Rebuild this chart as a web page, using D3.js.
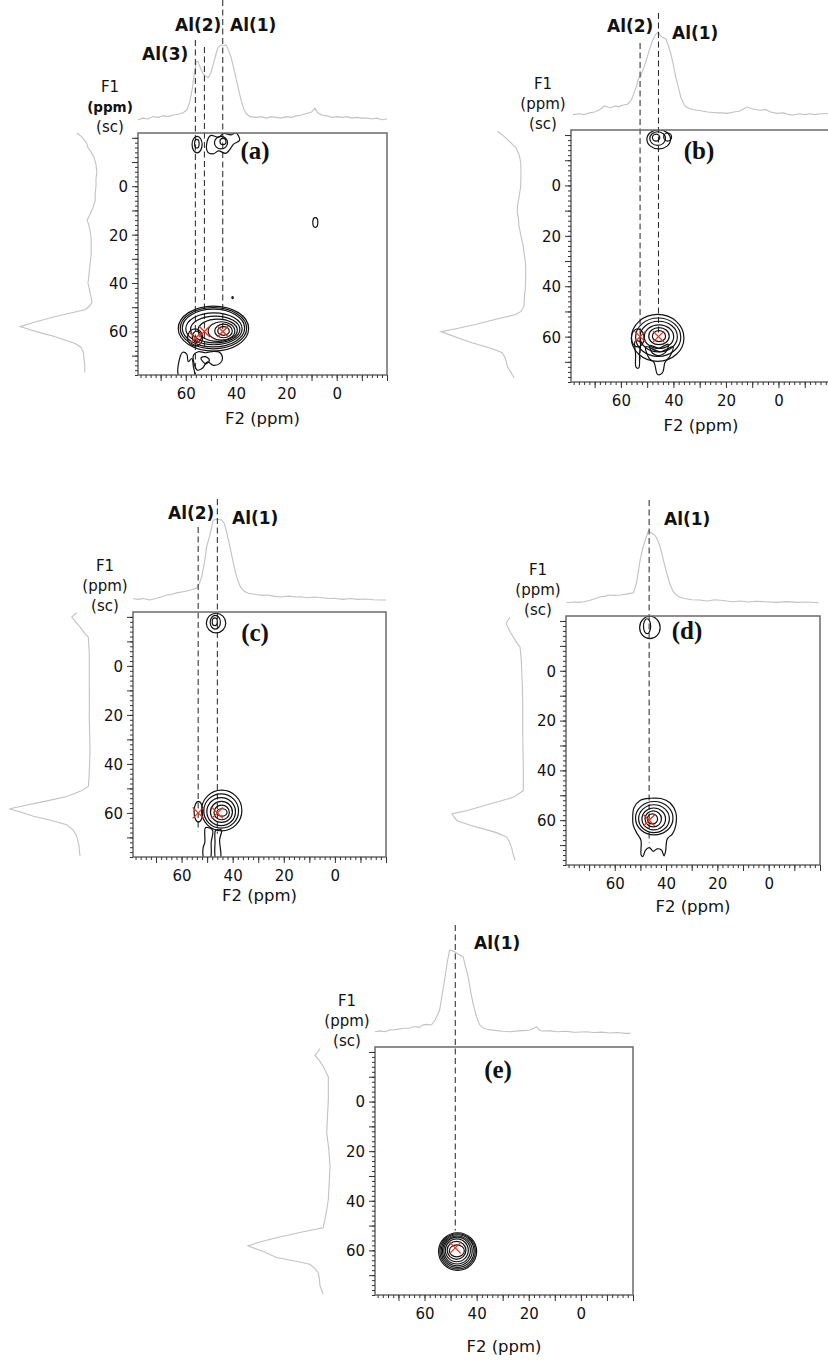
<!DOCTYPE html>
<html>
<head>
<meta charset="utf-8">
<script src="https://d3js.org/d3.v7.min.js"></script>
<style>
  body { margin: 0; background: #fff; }
  text { font-family: "DejaVu Sans", sans-serif; fill: #111; }
  .tick line { stroke: #333; }
</style>
</head>
<body>
<div id="main"></div>
<script>
const ctx = { w: 828, h: 1360 };

// shared axis ranges (ppm) and labelled ticks
const f2Domain = [79, -20];
const f1Domain = [-22, 78];
const labelTicks = [60, 40, 20, 0];

// peaks: site label, F2 / F1 position of the red cross, F1 where the dashed guide stops
const peaksA = [
  { label: "Al(1)", f2: 45.3, f1: 60, end: 60 },
  { label: "Al(2)", f2: 52.6, f1: 60, end: 66 },
  { label: "Al(3)", f2: 56.2, f1: 62.8, end: 78 }
];
const peaksB = [
  { label: "Al(2)", f2: 52.7, f1: 60, end: 69 },
  { label: "Al(1)", f2: 45.7, f1: 60, end: 59 }
];
const peaksC = [
  { label: "Al(2)", f2: 53.5, f1: 60, end: 67.5 },
  { label: "Al(1)", f2: 46, f1: 60, end: 68.5 }
];
const peaksD = [{ label: "Al(1)", f2: 46.6, f1: 60, end: 69 }];
const peaksE = [{ label: "Al(1)", f2: 48.2, f1: 59, end: 52 }];

// F2 projections (ppm, relative intensity)
const topA = [[79,3],[77,5],[75,4],[73,7],[71,6],[69,8],[67,7],[65,9],[63,10],[61,12],[59.5,16],[58.5,25],[57.5,42],[56.5,65],[55.8,78],[55.2,79],[54.3,71],[53,62],[52,59],[51,58],[50,64],[49,76],[48,88],[47.2,97],[46,100],[45,99],[44,100],[43.2,95],[42,84],[41,71],[40,56],[39,42],[38,28],[37,17],[36,11],[34.5,7],[32,6],[30,7],[28,5],[26,7],[24,6],[22,5],[20,7],[18,6],[16,8],[14,9],[12,11],[10,13],[8.7,18],[7.5,12],[6,9],[4,8],[2,6],[0,7],[-2,6],[-4,7],[-6,5],[-8,6],[-10,5],[-12,5],[-14,4],[-16,5],[-18,3],[-20,4]];
const topB = [[78.3,5],[76,6],[74,5],[72,7],[70,8],[68,11],[66.3,15],[64,13],[62,15],[61,14],[59,16],[57.5,17],[56,22],[55,30],[54,38],[53.3,47],[52.4,50],[51.5,57],[50.5,66],[49.5,76],[48,90],[46.8,97],[45.8,100],[44.8,95],[44.2,94],[42.9,92],[42,85],[41,75],[40,62],[39.1,48],[38,35],[37.2,25],[36,17],[35.3,14],[33,11],[31,10],[29.6,9.5],[27,8],[25,7.5],[23,7],[21,7],[19.5,6.5],[17,8],[15,9],[13,12],[11.9,14],[10.5,12],[9,11],[6.8,10],[5,11],[3,8],[0.5,6.5],[-2,7],[-4,5],[-5.8,4.6],[-8,6],[-10,5],[-12,6],[-14,5],[-16,6],[-18,6],[-19.5,6.5]];
const topC = [[79,3],[77,2],[75,3],[72.5,1.2],[70,3],[68,5],[65.9,7.4],[64,8],[62,10],[59.4,11.5],[57,13],[55,15],[54.1,15.7],[53,22],[52.1,30],[51,48],[50.2,67],[49,80],[47.6,100],[46,101],[44.3,100],[43.2,95],[42.3,84],[41,66],[39.7,46.5],[38.5,30],[37,17.7],[35.5,12],[33.8,9.5],[31,8],[28,7],[26.5,7.4],[24,6],[21,5],[18,6],[15,5],[13.4,5.3],[11,4],[8,5],[5,4],[2,3],[0.3,3.3],[-3,2],[-6,3],[-9,2],[-12,2.5],[-15,1.5],[-18,1.2],[-20,1.2]];
const topD = [[78.8,3.1],[76,4],[74,3.5],[72,4.4],[70,6],[68,8],[65.5,11.2],[63.5,12],[62.3,13.5],[60,13],[57.8,13.5],[55,15],[52.7,16.6],[51.5,30],[50.1,60.6],[49,78],[48.1,87.5],[46.9,100],[45.5,97],[44.3,94.2],[43.3,88],[42.3,78.5],[41,60],[39.7,42.7],[38.5,28],[37.2,17.9],[35.5,12],[33.3,9],[30,7],[26.9,6.7],[24,5.5],[21,7],[18,6],[14,4.4],[11,5.5],[8,4],[5,5],[1.1,4.4],[-3,3.5],[-7,4.5],[-11,3.5],[-15,4],[-19.5,3.1]];
const topE = [[79,5],[77,6],[75,5],[73,7.5],[72.2,7],[70,8],[68,9],[65.8,9],[64,11],[62,10],[60.7,12.8],[59,13.5],[57.4,12.8],[56,18],[54.2,30.2],[53.3,47],[52.3,65.1],[51.3,85],[50.4,100],[49.3,99],[48.4,98],[47,95],[45.2,92.2],[44.2,80],[43.3,69],[42.3,52],[41.4,38],[40,22],[38.8,12.8],[37.5,9.5],[36.2,7.8],[33,6.5],[30,5.5],[27.2,5],[24,6],[21,6.5],[19.5,7],[18,9],[17,10.8],[16,7],[15,5.8],[12,6],[9,5],[6,5.5],[3,4.5],[1.5,4.3],[-2,5],[-5,4],[-8,4.5],[-11,3.5],[-14,4],[-17,3],[-19,3.1]];

// F1 projections (ppm, relative intensity)
const sideA = [[-22,29],[-20.5,23],[-18,17],[-16,15],[-14,11],[-12,7.5],[-9,5],[-6,4],[-3,5],[0,5],[3,6],[6,6],[9,9],[12,13],[14,16],[16,14],[19,12],[22,11],[25,11],[28,11],[31,12],[34,13],[37,14],[40,15],[43,13],[46,11],[48,10],[49.5,13],[51,19],[52.5,38],[54,58],[56,80],[58,100],[59.5,85],[60.5,75],[62,58],[63.5,44],[65,31],[66.5,24],[68.5,21],[71,20],[74,19],[77,19]];
const sideB = [[-21.5,34.5],[-19.6,27],[-17,19],[-15,13],[-12,9],[-9,7.3],[-5,7],[0.3,7.3],[4,9],[8,11],[10.8,11.3],[13,10],[16.2,9.3],[20,7],[24,4.5],[26.7,3.5],[30,2],[34,1.5],[37.3,1.5],[41,2],[44,3],[47.9,3.5],[50,7],[51.2,13],[53,35],[55.2,60],[56.7,80],[58,100],[59.5,88],[61,76],[62.4,64],[64,48],[65.5,35],[66.4,29],[68,26],[70,24],[71.7,23],[73.5,20],[76.3,15]];
const sideC = [[-21.7,17.7],[-19.9,23.8],[-18,19],[-15.9,13.6],[-13,7],[-11.8,3.3],[-5,2.1],[0,2.1],[8.5,2.1],[15,2],[22.1,2.1],[30,1.5],[35.6,1.2],[42,2],[46,2.5],[49.2,3.3],[51,12],[53.3,30],[55.5,60],[57,82],[58,96],[58.4,100],[59.5,88],[61.4,71],[63,50],[64.8,30],[67,22],[69.5,17.7],[73,15],[77.6,13.6]];
const sideD = [[-21.5,21.5],[-20,25],[-18.9,26.9],[-16,22],[-13.5,17.1],[-11,12],[-9.6,8.1],[-5,6.5],[-0.3,5.8],[6,5],[13,4.4],[20,4.4],[26.3,4.4],[33,4],[39.6,3.6],[44,3.6],[48.2,3.6],[50.8,17.1],[52.5,37],[54.2,57.5],[56,78],[57.5,100],[58.8,97],[60.2,93.3],[62,75],[63.5,57.5],[65,40],[66.8,26],[69,22],[71.4,19.2],[74,17],[76.1,14.8]];
const sideE = [[-21.4,15.3],[-19.5,19],[-18.7,21.3],[-16.5,16],[-14.1,11.5],[-10,5.5],[-5,5.5],[-0.6,5.5],[6,6.5],[12.7,7.4],[19,5],[26.1,3.5],[33,4.5],[39.5,5.5],[45,8],[50.9,11.5],[52.5,35],[54.9,66.5],[56.5,85],[58.2,100],[60.5,82],[62.9,66.5],[64.3,45],[65.6,27.2],[67.5,21],[69,17.4],[71.5,16],[74.3,15.3],[77.7,11.5]];

// contour rings: [F2 centre, F1 centre, F2 half-width, F1 half-width] (ppm)
const ringsA = [[49,58.8,14,9.3],[49,58.7,13.2,8.5],[49,58.6,12.4,7.8],[48.8,58.9,11.2,6.6],[48.3,59.2,9.8,5.5],[47.3,59.5,7.8,4.6],[45.8,59.8,5.3,3.8],[45,59.8,3.5,2.8],[45,59.8,2.3,1.8],[56.3,62.5,3.0,3.6],[55.6,62.2,1.8,2.3],[55.5,-17.2,2.0,3.4],[55.6,-17.6,0.9,1.8],[46,-18,2.6,2.6],[45.2,-18.5,1.2,1.3],[8.5,15,1.0,2.0],[41.4,46,0.3,0.4]];
const ringsB = [[46,60.5,10,9.3],[45.8,60.2,8.6,7.6],[45.6,60,7.1,6.1],[45.5,60,5.6,4.7],[45.5,59.8,3.9,3.4],[45.5,59.8,2.5,2.2],[53.6,60.5,2.4,3.6],[45.6,-18.3,4.5,3.8],[46,-18.6,3,2.7],[46.6,-19,1.4,1.4],[42.2,-19.2,1.5,1.6]];
const ringsC = [[44.3,59,7.9,8.3],[44.5,59.2,6.8,7],[44.5,59.5,5.6,5.7],[44.4,59.6,4.3,4.3],[44.3,59.8,3,3],[44.2,59.8,2,1.5],[53.4,59.5,1.7,4.2],[46.5,-17.5,3.8,4],[46.8,-17.8,2,2.8],[47,-18,1,1.6]];
const ringsD = [[44.6,59.2,7.3,6.7],[44.7,59.4,6.0,5.6],[44.8,59.5,4.6,4.4],[45,59.5,3.2,3.2],[45.3,59.5,2.0,2.0],[46.3,-17.4,4,4.5],[47.4,-17.9,1.4,3]];
const ringsE = [[47.3,60.5,7.3,7.6],[47.3,60.4,6.8,7.1],[47.3,60.3,6.3,6.6],[47.4,60.2,5.7,6.0],[47.5,60.1,5.1,5.4],[47.6,60,4.4,4.6],[47.7,60,3.6,3.6],[47.6,60.2,2.9,2.4]];

// irregular contour outlines (F2, F1 points in ppm)
const blobsA = [
  [[62.6,78.5],[62.4,71],[61.2,68.6],[59.6,69.4],[59,72.5],[57.6,71.2],[57,74.5],[56.6,78.5]],
  [[57,70],[55,68.4],[52,68.8],[49,68.2],[46.6,68.6],[45.4,71],[46.4,73.2],[49,74],[51.4,72.6],[53.4,75.2],[55.4,76],[56.6,73.6]],
  [[54,71],[52.2,70.4],[50.6,71.8],[52,73.4]],
  [[51.2,-14],[51.6,-18],[50,-21],[47,-20.2],[45,-21.8],[42,-21.2],[40,-22],[38.6,-19],[41,-17.4],[42.6,-15],[44.2,-13.6],[47,-14.6],[49,-13.4]]
];
const blobsB = [
  [[54.6,62],[54.4,67],[54.2,72.2],[53.2,72.4],[52.9,67],[52.7,62]],
  [[50.5,64],[49.3,68.5],[47.4,70.2],[46,75],[44.2,74.4],[43.2,70.2],[41.2,67.6],[40.2,64],[45,66]],
  [[49,63.5],[48,66.5],[46,67.5],[44,67],[42.5,65.5],[42,63],[45.5,64.5]]
];
const blobsC = [
  [[50.6,66],[50.9,72],[51.6,74.5],[51.2,78.5],[48.8,78.5],[48.4,72],[47.9,67]],
  [[46.6,67],[46.9,72],[46.6,78.5],[44.8,78.5],[45.1,71],[44.4,67]]
];
const blobsD = [
  [[53,59],[52.5,55],[50,52],[46,51.2],[42,51.3],[38.5,53],[36.2,57],[36.2,62],[37.5,65.5],[39.5,67.5],[40.2,72.5],[40.8,74.3],[41.8,72],[43.5,71.5],[45,72.5],[46.5,71],[48,72],[49,74.6],[49.7,74],[49.8,68],[51.5,65],[52.8,62]]
];
const blobsE = [];

const letters = { a: "(a)", b: "(b)", c: "(c)", d: "(d)", e: "(e)" };

// panel placement on the page (px)
const layout = {
  a: { l: 138, t: 133, r: 387, b: 375, topZero: 11, topH: 77, sideZero: 38, sideW: 80,
       lineTop: [-133, -86, -93], labelPos: [[92, -102], [37, -102], [4, -73]],
       letterPos: [117, 26], f2LabelDy: 49, ppmBold: true },
  b: { l: 571, t: 130, r: 831, b: 382, topZero: 11, topH: 87, sideZero: 44, sideW: 86,
       lineTop: [-87, -117], labelPos: [[36, -98], [101, -91]],
       letterPos: [128, 29], f2LabelDy: 49 },
  c: { l: 133, t: 612, r: 386, b: 857, topZero: 11, topH: 81, sideZero: 42, sideW: 81,
       lineTop: [-85, -113], labelPos: [[35, -93], [99, -88]],
       letterPos: [122, 29], f2LabelDy: 44 },
  d: { l: 566, t: 616, r: 820, b: 865, topZero: 11, topH: 74, sideZero: 40, sideW: 74,
       lineTop: [-116], labelPos: [[98, -91]],
       letterPos: [121, 23], f2LabelDy: 47 },
  e: { l: 375, t: 1047, r: 633, b: 1295, topZero: 11, topH: 86, sideZero: 42, sideW: 85,
       lineTop: [-122], labelPos: [[99, -98]],
       letterPos: [123, 31], f2LabelDy: 57 }
};

const panels = [
  { id: "a", peaks: peaksA, top: topA, side: sideA, rings: ringsA, blobs: blobsA },
  { id: "b", peaks: peaksB, top: topB, side: sideB, rings: ringsB, blobs: blobsB },
  { id: "c", peaks: peaksC, top: topC, side: sideC, rings: ringsC, blobs: blobsC },
  { id: "d", peaks: peaksD, top: topD, side: sideD, rings: ringsD, blobs: blobsD },
  { id: "e", peaks: peaksE, top: topE, side: sideE, rings: ringsE, blobs: blobsE }
];

function drawPanel(svg, p) {
  const L = layout[p.id];
  const g = svg.append("g").attr("id", "panel" + p.id);
  const x = d3.scaleLinear().domain(f2Domain).range([L.l, L.r]);
  const y = d3.scaleLinear().domain(f1Domain).range([L.t, L.b]);

  // projections
  const iy = d3.scaleLinear().domain([0, 100]).range([L.t - L.topZero, L.t - L.topZero - L.topH]);
  const ix = d3.scaleLinear().domain([0, 100]).range([L.l - L.sideZero, L.l - L.sideZero - L.sideW]);
  g.append("path")
    .datum(p.top)
    .attr("fill", "none")
    .attr("stroke", "#c2c2c2")
    .attr("stroke-width", 1.1)
    .attr("d", d3.line().x(d => x(d[0])).y(d => iy(d[1])));
  g.append("path")
    .datum(p.side)
    .attr("fill", "none")
    .attr("stroke", "#c2c2c2")
    .attr("stroke-width", 1.1)
    .attr("d", d3.line().x(d => ix(d[1])).y(d => y(d[0])));

  // dashed guides
  g.selectAll("line.guide")
    .data(p.peaks)
    .enter()
    .append("line")
    .attr("class", "guide")
    .attr("x1", d => x(d.f2))
    .attr("x2", d => x(d.f2))
    .attr("y1", (d, i) => L.t + L.lineTop[i])
    .attr("y2", d => y(d.end))
    .attr("stroke", "#222")
    .attr("stroke-width", 1)
    .attr("stroke-dasharray", "6,3.5");

  // contours, clipped to the frame
  svg.select("defs").append("clipPath").attr("id", "clip" + p.id)
    .append("rect")
    .attr("x", L.l).attr("y", L.t)
    .attr("width", L.r - L.l).attr("height", L.b - L.t);
  const cg = g.append("g").attr("clip-path", `url(#clip${p.id})`);
  cg.selectAll("ellipse")
    .data(p.rings)
    .enter()
    .append("ellipse")
    .attr("cx", d => x(d[0]))
    .attr("cy", d => y(d[1]))
    .attr("rx", d => Math.abs(x(d[0] + d[2]) - x(d[0])))
    .attr("ry", d => Math.abs(y(d[1] + d[3]) - y(d[1])))
    .attr("fill", "none")
    .attr("stroke", "#111")
    .attr("stroke-width", 1.2);
  cg.selectAll("path.blob")
    .data(p.blobs)
    .enter()
    .append("path")
    .attr("class", "blob")
    .attr("fill", "none")
    .attr("stroke", "#111")
    .attr("stroke-width", 1.2)
    .attr("d", d3.line().curve(d3.curveCatmullRomClosed).x(d => x(d[0])).y(d => y(d[1])));

  // red crosses on the fitted positions
  const s = 5.5;
  g.selectAll("path.cross")
    .data(p.peaks)
    .enter()
    .append("path")
    .attr("class", "cross")
    .attr("d", d => {
      const cx = x(d.f2), cy = y(d.f1);
      return `M${cx - s},${cy - s}L${cx + s},${cy + s}M${cx - s},${cy + s}L${cx + s},${cy - s}`;
    })
    .attr("stroke", "#e8321e")
    .attr("stroke-width", 1.3)
    .attr("fill", "none");

  // frame
  g.append("rect")
    .attr("x", L.l).attr("y", L.t)
    .attr("width", L.r - L.l).attr("height", L.b - L.t)
    .attr("fill", "none")
    .attr("stroke", "#6a6a6a")
    .attr("stroke-width", 1.5);

  // axes: minor ticks every 2 ppm, major every 10 ppm
  const minor = d3.range(-20, 79, 2);
  const major = d3.range(-20, 79, 10);
  const xa = g.append("g").attr("transform", `translate(0,${L.b})`);
  xa.append("g").call(d3.axisBottom(x).tickValues(minor).tickSize(3).tickFormat(""));
  xa.append("g").call(d3.axisBottom(x).tickValues(major).tickSize(6)
    .tickFormat(d => labelTicks.includes(d) ? d : ""));
  xa.selectAll(".domain").remove();
  xa.selectAll("text").attr("y", 24).attr("dy", null)
    .style("font-size", "15px").style("font-family", "DejaVu Sans").attr("fill", "#111");

  const ya = g.append("g").attr("transform", `translate(${L.l},0)`);
  ya.append("g").call(d3.axisLeft(y).tickValues(minor).tickSize(3).tickFormat(""));
  ya.append("g").call(d3.axisLeft(y).tickValues(major).tickSize(6)
    .tickFormat(d => labelTicks.includes(d) ? d : ""));
  ya.selectAll(".domain").remove();
  ya.selectAll("text").attr("x", -10).attr("dy", "0.36em")
    .style("font-size", "15px").style("font-family", "DejaVu Sans").attr("fill", "#111");

  // axis titles
  g.append("text")
    .attr("x", (L.l + L.r) / 2)
    .attr("y", L.b + L.f2LabelDy)
    .attr("text-anchor", "middle")
    .style("font-size", "16.5px")
    .text("F2 (ppm)");
  const f1Lines = [["F1", -41, false], ["(ppm)", -21, !!L.ppmBold], ["(sc)", -1, false]];
  g.selectAll("text.f1")
    .data(f1Lines)
    .enter()
    .append("text")
    .attr("class", "f1")
    .attr("x", L.l - 28)
    .attr("y", d => L.t + d[1])
    .attr("text-anchor", "middle")
    .style("font-size", d => d[2] ? "13.5px" : "15px")
    .style("font-weight", d => d[2] ? "bold" : "normal")
    .text(d => d[0]);

  // site labels
  g.selectAll("text.site")
    .data(p.peaks)
    .enter()
    .append("text")
    .attr("class", "site")
    .attr("x", (d, i) => L.l + L.labelPos[i][0])
    .attr("y", (d, i) => L.t + L.labelPos[i][1])
    .style("font-size", "17px")
    .style("font-weight", "bold")
    .text(d => d.label);

  // panel letter
  g.append("text")
    .attr("x", L.l + L.letterPos[0])
    .attr("y", L.t + L.letterPos[1])
    .attr("text-anchor", "middle")
    .style("font-family", "'Liberation Serif', serif")
    .style("font-size", "25px")
    .style("font-weight", "bold")
    .text(letters[p.id]);
}

function createViz() {
  const svg = d3.select("#main").append("svg")
    .attr("width", ctx.w)
    .attr("height", ctx.h);
  svg.append("defs");
  panels.forEach(p => drawPanel(svg, p));
}

createViz();
</script>
</body>
</html>
